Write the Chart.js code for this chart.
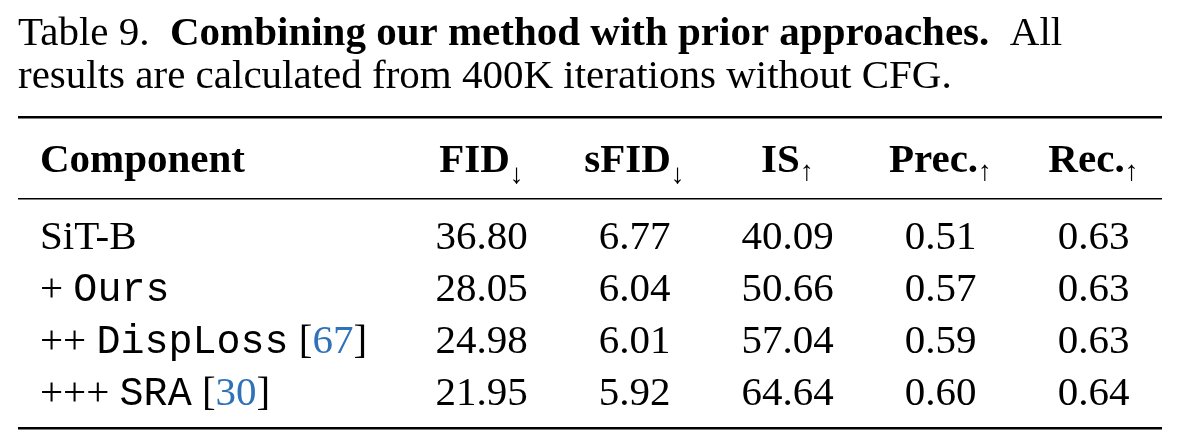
<!DOCTYPE html>
<html><head><meta charset="utf-8">
<script src="https://cdn.jsdelivr.net/npm/chart.js@4.4.1/dist/chart.umd.min.js"></script>
<style>html,body{margin:0;background:#fff}#wrap{width:1180px;height:440px}</style>
</head><body><div id="wrap"><canvas id="c"></canvas></div>
<script>
// table data
const metrics = ['FID', 'sFID', 'IS', 'Prec.', 'Rec.'];
const arrows = ['↓', '↓', '↑', '↑', '↑'];
const rows = ['SiT-B', '+ Ours', '++ DispLoss [67]', '+++ SRA [30]'];
const fid = [36.80, 28.05, 24.98, 21.95];
const sfid = [6.77, 6.04, 6.01, 5.92];
const is = [40.09, 50.66, 57.04, 64.64];
const prec = [0.51, 0.57, 0.59, 0.60];
const rec = [0.63, 0.63, 0.63, 0.64];
const series = [fid, sfid, is, prec, rec];

// component cells as text segments: [text, style]
const compSegs = [
  [['SiT-B', 's']],
  [['+ ', 's'], ['Ours', 'm']],
  [['++ ', 's'], ['DispLoss', 'm'], [' [', 's'], ['67', 'c'], [']', 's']],
  [['+++ ', 's'], ['SRA', 'm'], [' [', 's'], ['30', 'c'], [']', 's']]
];

const SERIF = '"Liberation Serif", "DejaVu Serif", serif';
const MONO = '"Liberation Mono", "DejaVu Sans Mono", monospace';
const FS = 41;

const tablePlugin = {
  id: 'table',
  afterDraw(chart) {
    const ctx = chart.ctx, xs = chart.scales.x, ys = chart.scales.y;
    ctx.save();
    ctx.fillStyle = '#000';
    ctx.textBaseline = 'alphabetic';

    // caption
    let x = 18;
    const seg = (t, f) => { ctx.font = f; ctx.fillText(t, x, 45); x += ctx.measureText(t).width; };
    ctx.textAlign = 'left';
    seg('Table 9.  ', FS + 'px ' + SERIF);
    seg('Combining our method with prior approaches.', 'bold ' + FS + 'px ' + SERIF);
    seg('  All', FS + 'px ' + SERIF);
    ctx.font = FS + 'px ' + SERIF;
    ctx.fillText('results are calculated from 400K iterations without CFG.', 18, 88);

    // rules
    ctx.fillRect(18, 116, 1144, 2.5);
    ctx.fillRect(18, 198, 1144, 1.5);
    ctx.fillRect(18, 427, 1144, 2.5);

    // header
    ctx.font = 'bold ' + FS + 'px ' + SERIF;
    ctx.fillText('Component', 40, 172);
    metrics.forEach((m, i) => {
      const cx = xs.getPixelForValue(i);
      ctx.font = 'bold ' + FS + 'px ' + SERIF;
      const w1 = ctx.measureText(m).width;
      ctx.font = '28px ' + SERIF;
      const w2 = ctx.measureText(arrows[i]).width;
      const left = cx - (w1 + w2) / 2;
      ctx.textAlign = 'left';
      ctx.font = 'bold ' + FS + 'px ' + SERIF;
      ctx.fillText(m, left, 172);
      ctx.font = '28px ' + SERIF;
      ctx.fillText(arrows[i], left + w1, arrows[i] === '↓' ? 183 : 180);
    });

    // body
    rows.forEach((r, j) => {
      const cy = ys.getPixelForValue(j) + 14;
      let px = 40;
      ctx.textAlign = 'left';
      compSegs[j].forEach(([t, s]) => {
        ctx.font = s === 'm' ? '40px ' + MONO : FS + 'px ' + SERIF;
        ctx.fillStyle = s === 'c' ? '#2f72b8' : '#000';
        ctx.fillText(t, px, cy);
        px += ctx.measureText(t).width;
      });
      ctx.fillStyle = '#000';
      ctx.font = FS + 'px ' + SERIF;
      ctx.textAlign = 'center';
      series.forEach((vals, i) => {
        ctx.fillText(vals[j].toFixed(2), xs.getPixelForValue(i), cy);
      });
    });
    ctx.restore();
  }
};

const pts = [];
series.forEach((vals, i) => vals.forEach((v, j) => pts.push({ x: metrics[i], y: rows[j] })));

new Chart(document.getElementById('c'), {
  type: 'scatter',
  data: { datasets: [{ data: pts, pointRadius: 0, showLine: false }] },
  options: {
    responsive: true, maintainAspectRatio: false, animation: false,
    layout: { padding: { left: 405, right: 10, top: 209, bottom: 23 } },
    plugins: { legend: { display: false }, tooltip: { enabled: false } },
    scales: {
      x: { type: 'category', labels: metrics, offset: true, display: false },
      y: { type: 'category', labels: rows, offset: true, display: false }
    }
  },
  plugins: [tablePlugin]
});
</script></body></html>
